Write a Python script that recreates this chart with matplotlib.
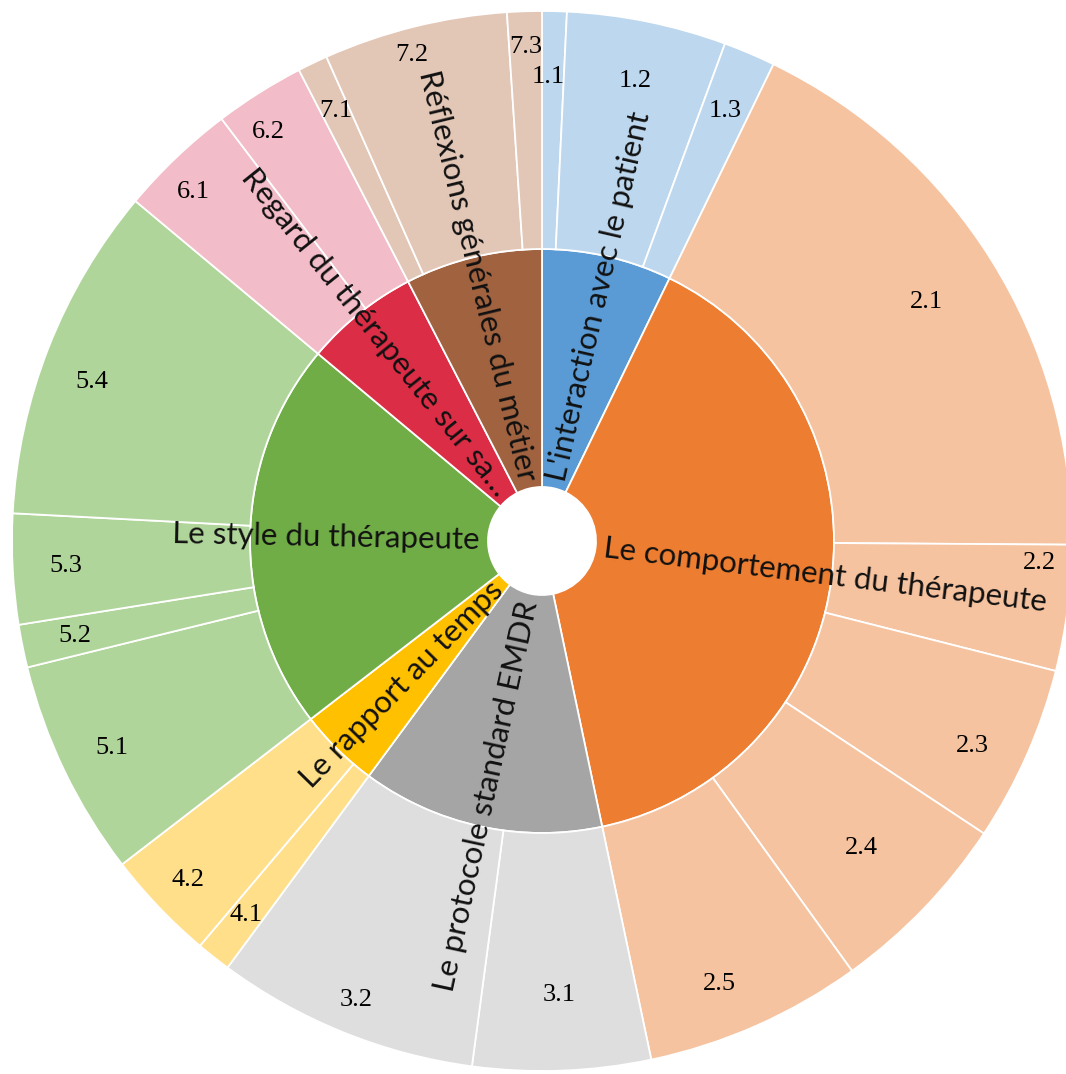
import numpy as np
import matplotlib
matplotlib.use("Agg")
import matplotlib.pyplot as plt

# ---- data ----
groups = [
    "L'interaction avec le patient",
    "Le comportement du thérapeute",
    "Le protocole standard EMDR",
    "Le rapport au temps",
    "Le style du thérapeute",
    "Regard du thérapeute sur sa\u2026",
    "Réflexions générales du métier",
]
sub_labels = [
    ["1.1", "1.2", "1.3"],
    ["2.1", "2.2", "2.3", "2.4", "2.5"],
    ["3.1", "3.2"],
    ["4.1", "4.2"],
    ["5.1", "5.2", "5.3", "5.4"],
    ["6.1", "6.2"],
    ["7.1", "7.2", "7.3"],
]
sub_values = [
    [2.7, 17.5, 5.7],
    [64.5, 13.8, 19.3, 20.7, 23.9],
    [19.5, 28.8],
    [3.8, 12.2],
    [23.8, 4.7, 12.1, 36.9],
    [12.9, 9.9],
    [3.3, 20.2, 3.8],
]
inner_colors = ["#5B9BD5", "#ED7D31", "#A5A5A5", "#FFC000", "#70AD47", "#DC2D46", "#A0623F"]
outer_colors = ["#BDD7EE", "#F6C3A0", "#DEDEDE", "#FFDF8A", "#B0D59A", "#F2BCC8", "#E2C6B6"]

# label placement tweaks (layout only): radius fraction, angle shift in degrees (clockwise)
label_radius = {"1.1": 0.875, "1.2": 0.885, "1.3": 0.882, "2.1": 0.853, "2.2": 0.94,
                "2.4": 0.836, "3.1": 0.857, "3.2": 0.935, "4.2": 0.925, "6.1": 0.93,
                "6.2": 0.928, "7.2": 0.95, "7.3": 0.932}
label_shift = {"2.2": -4.8, "1.1": -0.6, "2.5": 2.0, "2.3": 1.6, "5.4": -2.0, "6.1": -1.3,
               "6.2": -1.5, "7.2": -1.1}

# ---- figure ----
W, H = 1066, 1074
fig = plt.figure(figsize=(W / 100, H / 100), dpi=100)
ax = fig.add_axes([0, 0, 1, 1])
R = 530.0
cx, cy = 542.0, 541.0

r_hole = 54 / R
r_mid = 292 / R

group_totals = [sum(v) for v in sub_values]
flat_vals = [v for vs in sub_values for v in vs]
flat_labels = [l for ls in sub_labels for l in ls]
flat_colors = [outer_colors[i] for i, vs in enumerate(sub_values) for _ in vs]

edge = dict(edgecolor="white", linewidth=1.3)
w_in, _ = ax.pie(group_totals, radius=r_mid, startangle=90, counterclock=False,
                 colors=inner_colors, wedgeprops=dict(width=r_mid - r_hole, **edge))
w_out, _ = ax.pie(flat_vals, radius=1.0, startangle=90, counterclock=False,
                  colors=flat_colors, wedgeprops=dict(width=1.0 - r_mid, **edge))
ax.set_xlim(-cx / R, (W - cx) / R)
ax.set_ylim(-(H - cy) / R, cy / R)
ax.set_aspect("auto")
ax.axis("off")

# inner labels, radial
r_anchor = 62 / R
for w, name in zip(w_in, groups):
    ang = np.deg2rad((w.theta1 + w.theta2) / 2)
    deg = np.rad2deg(ang) % 360
    x, y = r_anchor * np.cos(ang), r_anchor * np.sin(ang)
    if 90 < deg < 270:
        rot, ha = deg - 180, "right"
    else:
        rot, ha = deg if deg <= 90 else deg - 360, "left"
    ax.text(x, y, name, rotation=rot, rotation_mode="anchor", ha=ha, va="center",
            fontsize=22.5, family=["Lato", "DejaVu Sans"], color="#111111")

# outer labels
for w, lab in zip(w_out, flat_labels):
    deg = (w.theta1 + w.theta2) / 2 - label_shift.get(lab, 0.0)
    ang = np.deg2rad(deg)
    rr = label_radius.get(lab, 0.9)
    ax.text(rr * np.cos(ang), rr * np.sin(ang), lab, ha="center", va="center",
            fontsize=19, family=["Liberation Serif", "DejaVu Serif"], color="black")

fig.savefig("out.png", dpi=100)
